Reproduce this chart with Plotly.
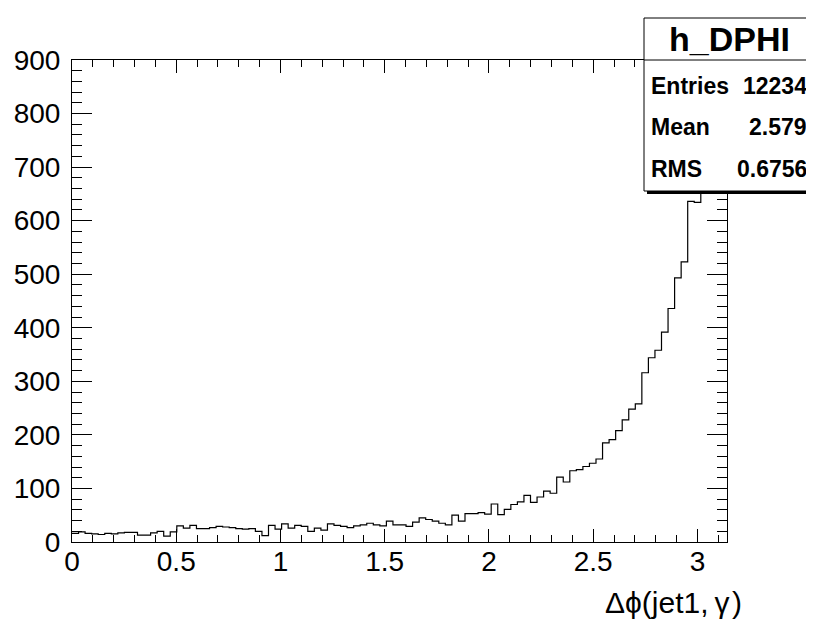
import numpy as np
import plotly.graph_objects as go

# ---------------- data ----------------
x_min, x_max = 0.0, np.pi
counts = [
    16, 19, 16, 15, 14, 16, 15, 17, 18, 18,
    13, 13, 17, 20, 11, 19, 30, 26, 31, 25,
    25, 27, 29, 28, 27, 25, 24, 25, 20, 12,
    31, 24, 34, 26, 31, 29, 20, 26, 22, 34,
    31, 29, 27, 30, 32, 35, 32, 30, 39, 32,
    32, 29, 37, 45, 42, 39, 35, 32, 50, 39,
    53, 53, 55, 52, 71, 51, 61, 70, 75, 87,
    74, 84, 95, 91, 121, 112, 133, 135, 141, 147,
    155, 185, 191, 208, 228, 248, 258, 316, 344, 358,
    392, 436, 493, 523, 636, 634, 760, 830, 855, 851,
]
x_tick_vals = [0, 0.5, 1, 1.5, 2, 2.5, 3]
x_tick_text = ["0", "0.5", "1", "1.5", "2", "2.5", "3"]
y_tick_vals = [0, 100, 200, 300, 400, 500, 600, 700, 800, 900]
y_range = [0, 900]
x_title = "Δϕ(jet1,\u2009γ\u200a)"
stats_title = "h_DPHI"
stats_labels = ["Entries", "Mean", "RMS"]
stats_values = ["12234", "2.579", "0.6756"]

# ---------------- layout geometry (pixels) ----------------
W, H = 814, 620
L, R, T, B = 64, 95, 52, 86
PW, PH = W - L - R, H - T - B


def px(xp):
    return (xp - L) / PW


def py(yp):
    return (H - B - yp) / PH


edges = np.linspace(x_min, x_max, len(counts) + 1)
xs = list(edges)
ys = list(counts) + [counts[-1]]

fig = go.Figure()
fig.add_trace(go.Scatter(
    x=xs, y=ys, mode="lines", line=dict(color="black", width=1.2, shape="hv"),
    hoverinfo="skip", showlegend=False,
))

FONT = "Liberation Sans, Arial, Helvetica, sans-serif"

fig.update_layout(
    width=W, height=H, autosize=False,
    margin=dict(l=L, r=R, t=T, b=B, pad=0, autoexpand=False),
    paper_bgcolor="white", plot_bgcolor="white",
    font=dict(family=FONT, color="black", size=28),
    showlegend=False,
    xaxis=dict(
        range=[x_min, x_max], tickvals=x_tick_vals, ticktext=x_tick_text,
        ticks="inside", ticklen=13, tickwidth=1, tickcolor="black",
        minor=dict(dtick=0.1, tick0=0, ticks="inside", ticklen=7, tickwidth=1, tickcolor="black"),
        showline=True, linecolor="black", linewidth=1, mirror="ticks",
        showgrid=False, zeroline=False, automargin=False,
        tickfont=dict(size=28, family=FONT, color="black"),
        ticklabelstandoff=-6,
    ),
    yaxis=dict(
        range=y_range, tickvals=y_tick_vals,
        ticks="inside", ticklen=20, tickwidth=1, tickcolor="black",
        minor=dict(dtick=20, tick0=0, ticks="inside", ticklen=10, tickwidth=1, tickcolor="black"),
        showline=True, linecolor="black", linewidth=1, mirror="ticks",
        showgrid=False, zeroline=False, automargin=False,
        tickfont=dict(size=28, family=FONT, color="black"),
        ticklabelstandoff=5,
    ),
)

# axis title (right aligned, ROOT style)
fig.add_annotation(
    x=px(735), y=py(594), xref="paper", yref="paper",
    text=x_title, showarrow=False, xanchor="right", yanchor="middle",
    borderpad=0,
    font=dict(size=30, family=FONT, color="black"),
)

# ---------------- stats box ----------------
bx0, bx1, by0, by1 = 636, 806, 10, 183
shadow = 3
fig.add_shape(type="rect", xref="paper", yref="paper",
              x0=px(bx0 + shadow), x1=px(bx1 + shadow), y0=py(by1 + shadow), y1=py(by0 + shadow),
              fillcolor="black", line=dict(color="black", width=0), layer="above")
fig.add_shape(type="rect", xref="paper", yref="paper",
              x0=px(bx0), x1=px(bx1), y0=py(by1), y1=py(by0),
              fillcolor="white", line=dict(color="black", width=1), layer="above")
fig.add_shape(type="line", xref="paper", yref="paper",
              x0=px(bx0), x1=px(bx1), y0=py(52), y1=py(52),
              line=dict(color="black", width=1), layer="above")

fig.add_annotation(
    x=px((bx0 + bx1) / 2), y=py(31), xref="paper", yref="paper",
    text="<b>%s</b>" % stats_title, showarrow=False, xanchor="center", yanchor="middle",
    font=dict(size=34, family=FONT, color="black"),
)
row_y = [78, 119, 161]
for lab, val, ry in zip(stats_labels, stats_values, row_y):
    fig.add_annotation(
        x=px(641), y=py(ry), xref="paper", yref="paper",
        text="<b>%s</b>" % lab, showarrow=False, xanchor="left", yanchor="middle",
        font=dict(size=23, family=FONT, color="black"),
    )
    fig.add_annotation(
        x=px(801), y=py(ry), xref="paper", yref="paper",
        text="<b>%s</b>" % val, showarrow=False, xanchor="right", yanchor="middle",
        font=dict(size=23, family=FONT, color="black"),
    )

fig.write_html("out.html")
